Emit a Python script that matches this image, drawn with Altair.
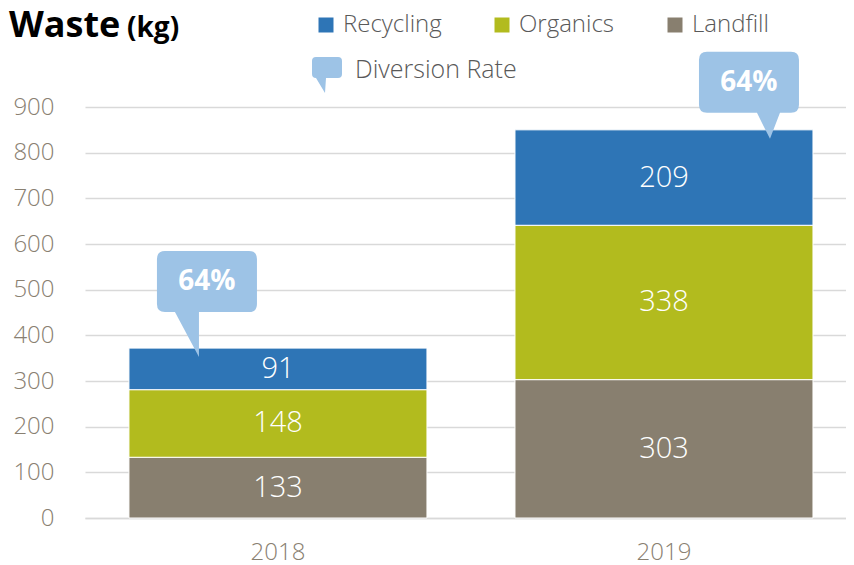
import altair as alt
import pandas as pd

# ---- data ----
years = ["2018", "2019"]
categories = ["Recycling", "Organics", "Landfill"]
recycling = [91, 209]
organics = [148, 338]
landfill = [133, 303]
y_ticks = [0, 100, 200, 300, 400, 500, 600, 700, 800, 900]

colors = ["#2e75b6", "#b2bb1e", "#887f6f"]
callout_color = "#9dc3e6"
label_font = "Open Sans"
tick_color = "#898071"

rows = []
for i, yr in enumerate(years):
    for cat, vals, order in [("Landfill", landfill, 0), ("Organics", organics, 1), ("Recycling", recycling, 2)]:
        rows.append({"year": yr, "category": cat, "value": vals[i], "order": order})
df = pd.DataFrame(rows)

totals = pd.DataFrame({
    "year": years,
    "total": [r + o + l for r, o, l in zip(recycling, organics, landfill)],
})
totals["label"] = [f"{round((r + o) / (r + o + l) * 100)}%" for r, o, l in zip(recycling, organics, landfill)]

x_scale = alt.Scale(paddingInner=0.228, paddingOuter=0.0997, align=0.571)
x_enc = alt.X("year:N", sort=years, scale=x_scale,
              axis=alt.Axis(title=None, labelAngle=0, labelFontSize=24, labelFont=label_font,
                            labelFontWeight=300, labelColor=tick_color, labelPadding=22,
                            ticks=False, domain=True, domainColor="#d9d9d9", domainWidth=1.5, grid=False))
y_scale = alt.Scale(domain=[0, 900], nice=False)

bars = alt.Chart(df).mark_bar(stroke="white", strokeWidth=1).encode(
    x=x_enc,
    y=alt.Y("sum(value):Q", stack="zero", scale=y_scale,
            axis=alt.Axis(title=None, values=y_ticks, labelFontSize=24, labelFont=label_font,
                          labelFontWeight=300, labelColor=tick_color, labelPadding=31,
                          ticks=False, domain=False, grid=True, gridColor="#d9d9d9", gridWidth=1.5)),
    color=alt.Color("category:N", scale=alt.Scale(domain=categories, range=colors),
                    legend=alt.Legend(title=None, orient="none", legendX=229, legendY=-94,
                                      direction="horizontal", symbolType="square", symbolSize=225,
                                      symbolStrokeWidth=0, symbolOpacity=1, labelFontSize=24,
                                      labelFont=label_font, labelFontWeight=300, labelColor="#595959",
                                      labelOffset=5, columnPadding=48, padding=0)),
    order=alt.Order("order:Q"),
)

seg_labels = alt.Chart(df).transform_stack(
    stack="value", groupby=["year"], as_=["v0", "v1"], sort=[alt.SortField("order")]
).transform_calculate(mid="(datum.v0 + datum.v1) / 2").mark_text(
    color="white", fontSize=29, font=label_font, fontWeight=300, baseline="middle"
).encode(x=alt.X("year:N", sort=years), y=alt.Y("mid:Q", scale=y_scale), text="value:Q")


def rounded_callout(bx0, bx1, by0, by1, tail, r, k=100.0):
    """SVG path (scaled by 1/k) for a rounded box with a tail polygon."""
    def p(x, y):
        return f"{x / k:.4f},{y / k:.4f}"
    s = f"M{p(bx0 + r, by0)}L{p(bx1 - r, by0)}Q{p(bx1, by0)} {p(bx1, by0 + r)}"
    s += f"L{p(bx1, by1 - r)}Q{p(bx1, by1)} {p(bx1 - r, by1)}"
    (tl, tr, tip) = tail
    s += f"L{p(tr, by1)}L{p(tip[0], tip[1])}L{p(tl, by1)}"
    s += f"L{p(bx0 + r, by1)}Q{p(bx0, by1)} {p(bx0, by1 - r)}"
    s += f"L{p(bx0, by0 + r)}Q{p(bx0, by0)} {p(bx0 + r, by0)}Z"
    return s


# callout geometry per year (pixels relative to bar top centre)
callout_geom = {
    "2018": dict(box=(-121, -21, -97, -36), tail=(-103, -79, (-79, 9)), text=(-71, -66)),
    "2019": dict(box=(35, 135, -78, -17), tail=(93, 116, (106, 9)), text=(85, -47)),
}

callouts = []
for yr in years:
    g = callout_geom[yr]
    bx0, bx1, by0, by1 = g["box"]
    path = rounded_callout(bx0, bx1, by0, by1, g["tail"], 8)
    base = alt.Chart(totals).transform_filter(alt.datum.year == yr)
    callouts.append(base.mark_point(shape=path, size=40000, filled=True, fill=callout_color,
                                    opacity=1, strokeWidth=0).encode(
        x=alt.X("year:N", sort=years), y=alt.Y("total:Q", scale=y_scale)))
    callouts.append(base.mark_text(color="white", fontSize=28, font=label_font, fontWeight="bold",
                                   dx=g["text"][0], dy=g["text"][1], baseline="middle").encode(
        x=alt.X("year:N", sort=years), y=alt.Y("total:Q", scale=y_scale), text="label:N"))

# legend entry for the diversion rate callout
icon_path = rounded_callout(-15, 15, -10.5, 10.5, (-11, -1, (-2, 25.5)), 4)
div_icon = alt.Chart(pd.DataFrame({"name": ["Diversion Rate"]})).mark_point(
    shape=icon_path, size=40000, filled=True, fill=callout_color, opacity=1, strokeWidth=0
).encode(x=alt.value(242), y=alt.value(-39.5))
div_text = alt.Chart(pd.DataFrame({"name": ["Diversion Rate"]})).mark_text(
    align="left", baseline="middle", fontSize=25, font=label_font, fontWeight=300, color="#595959"
).encode(x=alt.value(270), y=alt.value(-37), text="name:N")

title_main = alt.Chart(pd.DataFrame({"t": ["Waste"]})).mark_text(
    align="left", baseline="alphabetic", fontSize=36, font=label_font, fontWeight="bold", color="black"
).encode(x=alt.value(-76), y=alt.value(-70), text="t:N")
title_unit = alt.Chart(pd.DataFrame({"t": ["(kg)"]})).mark_text(
    align="left", baseline="alphabetic", fontSize=28, font=label_font, fontWeight="bold", color="black"
).encode(x=alt.value(42), y=alt.value(-70), text="t:N")

chart = alt.layer(bars, seg_labels, *callouts, div_icon, div_text, title_main, title_unit).properties(
    width=761, height=411,
    autosize=alt.AutoSizeParams(type="none"),
    padding={"left": 77, "top": 99, "right": 0, "bottom": 47},
).configure_view(stroke=None)

chart.save("out.html", embed_options={"renderer": "svg", "actions": False})
